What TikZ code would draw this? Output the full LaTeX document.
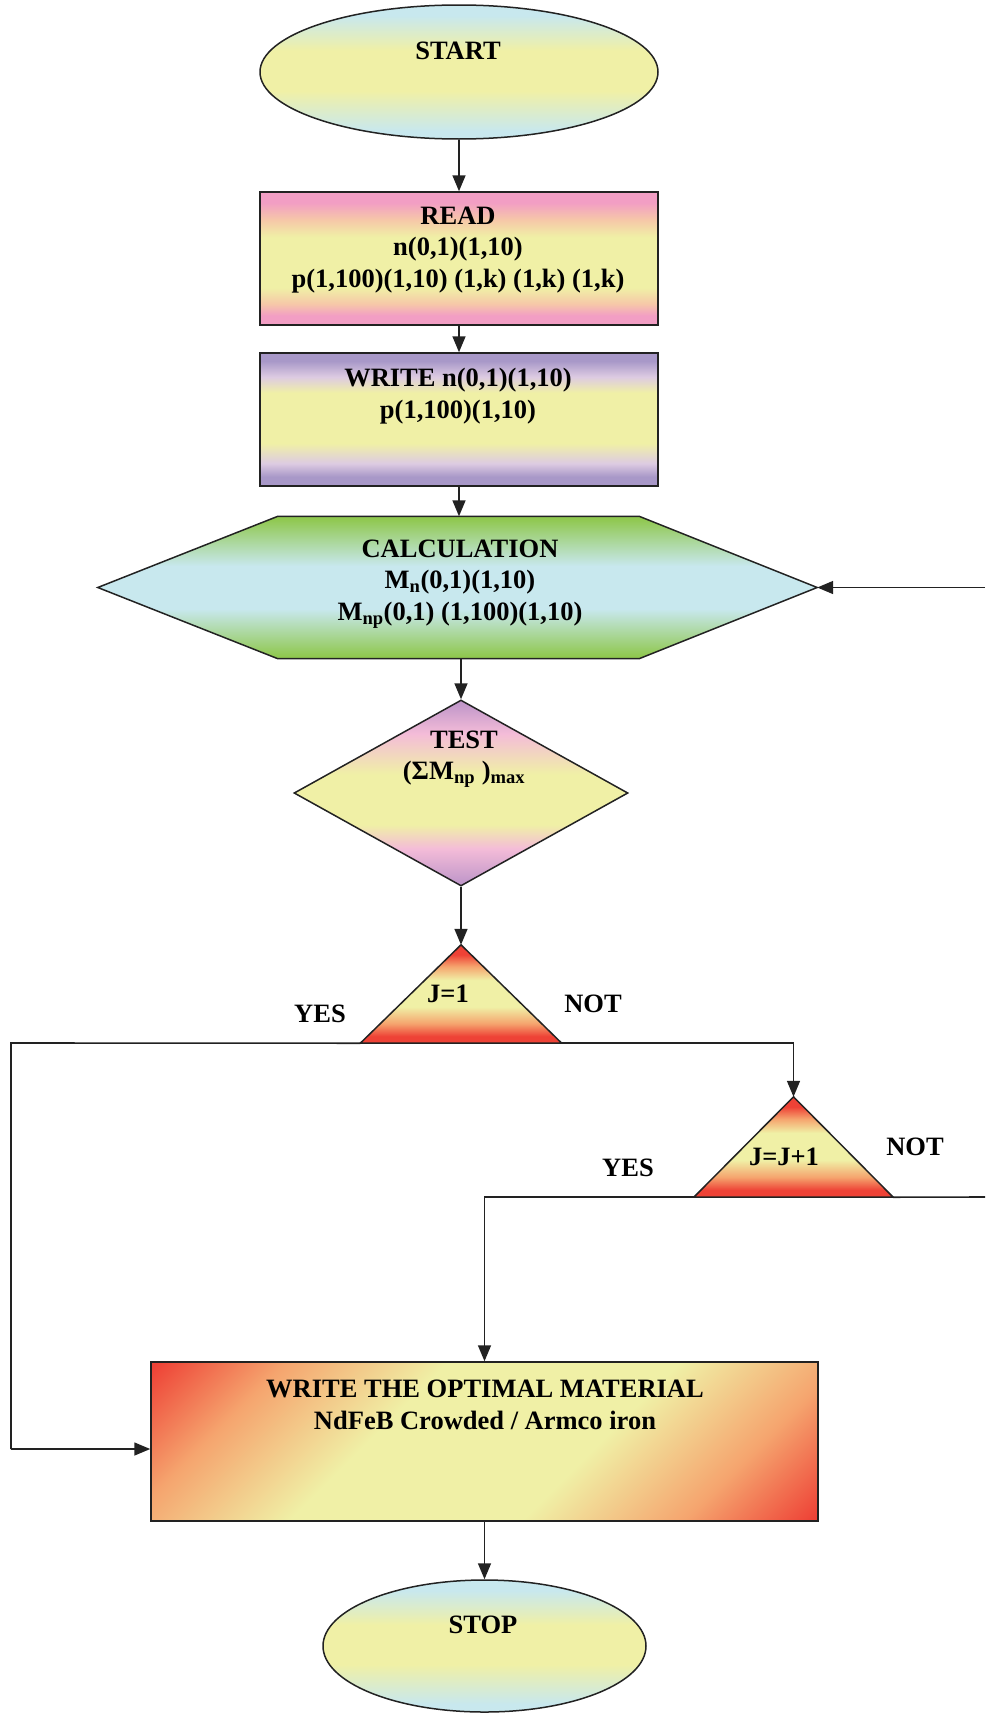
\documentclass[tikz,border=0pt]{standalone}
\usepackage{fontspec}
\setmainfont{Liberation Serif}
\usetikzlibrary{shapes.geometric,arrows.meta,calc}

\definecolor{cblue}{HTML}{C8E8EE}
\definecolor{cyel}{HTML}{F0F0A6}
\definecolor{cpink}{HTML}{F29EC4}
\definecolor{cpeach}{HTML}{F6C8A8}
\definecolor{cpurple}{HTML}{A898C8}
\definecolor{clav}{HTML}{DDCBE2}
\definecolor{cgreen}{HTML}{90C850}
\definecolor{dpurple}{HTML}{C298CA}
\definecolor{dpink}{HTML}{F4BCD8}
\definecolor{cred}{HTML}{EE4236}
\definecolor{corange}{HTML}{F5A46E}
\definecolor{cline}{HTML}{222222}

\pgfdeclareverticalshading{ellsh}{100bp}{color(0bp)=(cblue); color(28bp)=(cblue); color(43bp)=(cyel); color(58bp)=(cyel); color(71bp)=(cblue); color(100bp)=(cblue)}
\pgfdeclareverticalshading{readsh}{100bp}{color(0bp)=(cpink); color(28.5bp)=(cpink); color(33bp)=(cpeach); color(39bp)=(cyel); color(58bp)=(cyel); color(64.5bp)=(cpeach); color(71bp)=(cpink); color(100bp)=(cpink)}
\pgfdeclareverticalshading{writesh}{100bp}{color(0bp)=(cpurple); color(28.5bp)=(cpurple); color(33.5bp)=(clav); color(41bp)=(cyel); color(60bp)=(cyel); color(66bp)=(clav); color(72bp)=(cpurple); color(100bp)=(cpurple)}
\pgfdeclareverticalshading{hexsh}{100bp}{color(0bp)=(cgreen); color(26bp)=(cgreen); color(42.5bp)=(cblue); color(57.5bp)=(cblue); color(74bp)=(cgreen); color(100bp)=(cgreen)}
\pgfdeclareverticalshading{diash}{100bp}{color(0bp)=(dpurple); color(26bp)=(dpurple); color(35bp)=(dpink); color(41.5bp)=(cyel); color(55bp)=(cyel); color(66bp)=(dpink); color(74bp)=(dpurple); color(100bp)=(dpurple)}
\pgfdeclareverticalshading{trish}{100bp}{color(0bp)=(cred); color(28.5bp)=(cred); color(35bp)=(corange); color(43.5bp)=(cyel); color(57bp)=(cyel); color(64bp)=(corange); color(70bp)=(cred); color(100bp)=(cred)}
\pgfdeclarehorizontalshading{finsh}{100bp}{color(0bp)=(cred); color(15bp)=(cred); color(26bp)=(corange); color(40bp)=(cyel); color(60bp)=(cyel); color(74bp)=(corange); color(85bp)=(cred); color(100bp)=(cred)}

\begin{document}
\begin{tikzpicture}[x=1pt,y=-1pt,
  lw/.style={line width=1.5pt, draw=cline},
  txt/.style={font=\fontsize{26.5}{31.5}\selectfont\bfseries, align=center, inner sep=0pt},
  arr/.style={line width=1.6pt, draw=cline, -{Triangle[length=16pt,width=13pt]}},
  ln/.style={line width=1.6pt, draw=cline},
  box/.style={lw, rectangle, inner sep=0pt, shade},
  ghost/.style={rectangle, inner sep=0pt}]

\useasboundingbox (0,0) rectangle (985,1713);

% shapes
\node[lw, ellipse, inner sep=0pt, shade, shading=ellsh, minimum width=398pt, minimum height=134pt] (start) at (459,72) {};
\node[box, shading=readsh, minimum width=398pt, minimum height=133pt] (read) at (459,258.5) {};
\node[box, shading=writesh, minimum width=398pt, minimum height=133pt] (write) at (459,419.5) {};
\node[ghost, minimum width=719pt, minimum height=142pt] (calc) at (457.5,587.5) {};
\shadedraw[lw, shading=hexsh] (calc.west) -- ($(calc.north west)+(180,0)$) -- ($(calc.north east)+(-178,0)$) -- (calc.east) -- ($(calc.south east)+(-178,0)$) -- ($(calc.south west)+(180,0)$) -- cycle;
\node[lw, diamond, inner sep=0pt, shade, shading=diash, minimum width=334pt, minimum height=186pt] (test) at (461,793) {};
\node[ghost, minimum width=201pt, minimum height=98pt] (tri1) at (461,994) {};
\shadedraw[lw, shading=trish] (tri1.north) -- (tri1.south east) -- (tri1.south west) -- cycle;
\node[ghost, minimum width=199pt, minimum height=100pt] (tri2) at (793.5,1147) {};
\shadedraw[lw, shading=trish] (tri2.north) -- (tri2.south east) -- (tri2.south west) -- cycle;
\node[box, shading=finsh, shading angle=-45, minimum width=667pt, minimum height=159pt] (final) at (484.5,1441.5) {};
\node[lw, ellipse, inner sep=0pt, shade, shading=ellsh, minimum width=323pt, minimum height=132pt] (stop) at (484.5,1646) {};

% texts
\node[txt] (starttxt) at (458,51) {START};
\node[txt] (readtxt) at (458,250) {READ\\n(0,1)(1,10)\\p(1,100)(1,10) (1,k) (1,k) (1,k)};
\node[txt] (writetxt) at (458,396) {WRITE n(0,1)(1,10)\\p(1,100)(1,10)};
\node[txt] (calctxt) at (460,584) {CALCULATION\\M\textsubscript{n}(0,1)(1,10)\\M\textsubscript{np}(0,1) (1,100)(1,10)};
\node[txt] (testtxt) at (464,759) {TEST\\(ΣM\textsubscript{np} )\textsubscript{max}};
\node[txt] (tri1txt) at (448,994) {J=1};
\node[txt] (tri2txt) at (784,1157) {J=J+1};
\node[txt] (fintxt) at (485,1405) {WRITE THE OPTIMAL MATERIAL\\NdFeB Crowded / Armco iron};
\node[txt] (stoptxt) at (483,1625) {STOP};
\node[txt] (yes1) at (320,1014) {YES};
\node[txt] (not1) at (593,1004) {NOT};
\node[txt] (yes2) at (628,1168) {YES};
\node[txt] (not2) at (915,1147) {NOT};

% connectors
\coordinate (c1) at (11,1043);
\coordinate (c2) at (11,1449);
\coordinate (r1) at (985,1197);
\coordinate (r2) at (985,587.5);
\draw[arr] (start.south) -- (read.north);
\draw[arr] (read.south) -- (write.north);
\draw[arr] (write.south) -- (write.south |- calc.north);
\draw[arr] (test.north |- calc.south) -- (test.north);
\draw[arr] (test.south) -- (tri1.north);
\draw[ln] (tri1.south west) -- (c1) -- (c2);
\draw[arr] (c2) -- (c2 -| final.west);
\draw[arr] (tri1.south east) -| (tri2.north);
\draw[arr] (tri2.south west) -| (final.north);
\draw[ln] (tri2.south east) -- (r1);
\draw[arr] (r2) -- (calc.east);
\draw[arr] (final.south) -- (stop.north);
\end{tikzpicture}
\end{document}
